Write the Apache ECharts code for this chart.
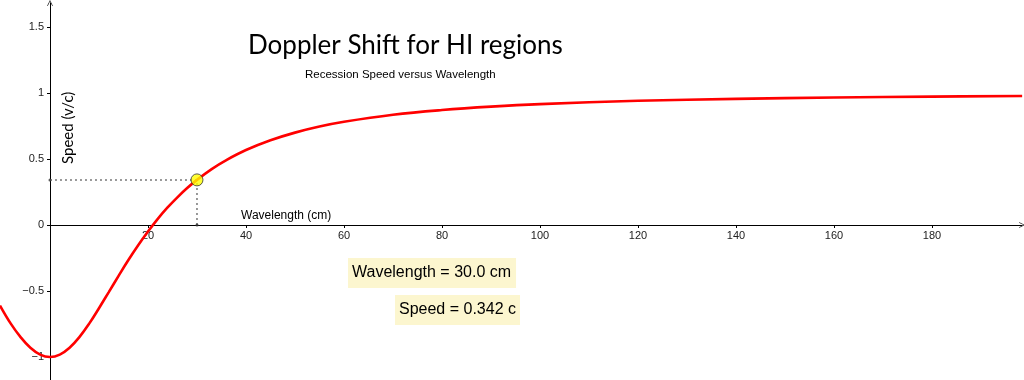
<!DOCTYPE html>
<html>
<head>
<meta charset="utf-8">
<script src="https://cdn.jsdelivr.net/npm/echarts@6/dist/echarts.min.js"></script>
<style>
html,body{margin:0;padding:0;background:#fff;}
#chart{width:1024px;height:380px;}
</style>
</head>
<body>
<div id="chart"></div>
<script>
// Curve samples (wavelength in cm, speed in v/c)
const wavelengths = [-10.2,-8,-6,-4,-2,0,2,4,6,8,10,12,14,16,18,20,22,24,26,28,30,33,36,40,45,50,55,60,70,80,90,100,120,140,160,180,198.4];
const speeds = [-0.61,-0.747,-0.849,-0.930,-0.982,-1,-0.982,-0.930,-0.849,-0.747,-0.630,-0.508,-0.385,-0.265,-0.153,-0.049,0.047,0.133,0.210,0.280,0.342,0.424,0.492,0.568,0.642,0.700,0.746,0.782,0.835,0.871,0.897,0.916,0.941,0.956,0.966,0.973,0.978];

// Selected point
const selectedWavelength = 30.0;
const selectedSpeed = 0.342;

// Tick labels
const xTicks = [20,40,60,80,100,120,140,160,180];
const yTicks = [-1,-0.5,0,0.5,1,1.5];

const titleText = 'Doppler Shift for HI regions';
const subtitleText = 'Recession Speed versus Wavelength';
const xAxisName = 'Wavelength (cm)';
const yAxisName = 'Speed (v/c)';

const curve = wavelengths.map((w, i) => [w, speeds[i]]);
const guide = [[0, selectedSpeed], [selectedWavelength, selectedSpeed], [selectedWavelength, 0]];

const chevron = 'path://M0,10 L5,0 L10,10 L9,10.6 L5,2.2 L1,10.6 Z';
const fmt = v => String(v).replace('-', '\u2212');
const X_MIN = -10.2, X_MAX = 198.37, Y_MIN = -1.174, Y_MAX = 1.682;

const chart = echarts.init(document.getElementById('chart'), null, {renderer: 'canvas'});
chart.setOption({
  animation: false,
  backgroundColor: '#ffffff',
  title: [
    {text: titleText, left: 243, top: 28,
     textStyle: {fontFamily: 'Lato', fontSize: 26, fontWeight: 'normal', color: '#000'}},
    {text: subtitleText, left: 305, top: 69, padding: 0,
     textStyle: {fontFamily: 'Liberation Sans', fontSize: 11.5, fontWeight: 'normal', color: '#000'}}
  ],
  grid: [
    {left: 0, right: 2, top: 3, bottom: 0, containLabel: false, outerBoundsMode: 'none'},
    {left: 50, right: 2, top: 3, bottom: 0, containLabel: false, outerBoundsMode: 'none'}
  ],
  xAxis: [
    {gridIndex: 0, type: 'value', min: X_MIN, max: X_MAX, show: true,
     axisLine: {show: false}, axisTick: {show: false}, axisLabel: {show: false}, splitLine: {show: false}},
    {gridIndex: 1, type: 'value', min: 0, max: X_MAX, position: 'bottom', offset: -155,
     axisLine: {onZero: false, symbol: ['none', chevron], symbolSize: [8, 6],
                lineStyle: {color: '#000', width: 1}},
     axisTick: {show: true, length: 3, customValues: xTicks, lineStyle: {color: '#000'}},
     axisLabel: {customValues: xTicks, formatter: fmt, margin: 5,
                 fontFamily: 'Liberation Sans', fontSize: 11, color: '#222'},
     splitLine: {show: false}}
  ],
  yAxis: [
    {gridIndex: 0, type: 'value', min: Y_MIN, max: Y_MAX, position: 'left', offset: -50,
     axisLine: {onZero: false, symbol: ['none', chevron], symbolSize: [8, 6],
                lineStyle: {color: '#000', width: 1}},
     axisTick: {show: true, length: 3, customValues: yTicks, lineStyle: {color: '#000'}},
     axisLabel: {customValues: yTicks, formatter: fmt, margin: 6,
                 fontFamily: 'Liberation Sans', fontSize: 11, color: '#222'},
     splitLine: {show: false}},
    {gridIndex: 1, type: 'value', min: Y_MIN, max: Y_MAX, show: false, splitLine: {show: false}}
  ],
  series: [
    {type: 'line', xAxisIndex: 0, yAxisIndex: 0, data: guide, symbol: 'none', silent: true, z: 2,
     lineStyle: {color: '#777', width: 1.5, type: [2, 3]}},
    {type: 'line', xAxisIndex: 0, yAxisIndex: 0, data: curve, symbol: 'none', smooth: 0.4, z: 3,
     lineStyle: {color: '#ff0000', width: 2.6}},
    {type: 'scatter', xAxisIndex: 0, yAxisIndex: 0, data: [[selectedWavelength, 0], [0, selectedSpeed]], symbolSize: 3, z: 4,
     itemStyle: {color: '#333'}},
    {type: 'scatter', xAxisIndex: 0, yAxisIndex: 0, data: [[selectedWavelength, selectedSpeed]], symbolSize: 12, z: 5,
     itemStyle: {color: '#ffff00', borderColor: '#333', borderWidth: 1}}
  ],
  graphic: [
    {type: 'text', left: 241, top: 210,
     style: {text: xAxisName, fontFamily: 'Liberation Sans', fontSize: 12, fill: '#000'}},
    {type: 'text', x: 61, y: 164, rotation: Math.PI / 2, originX: 0, originY: 0,
     style: {text: yAxisName, fontFamily: 'Lato', fontSize: 15, fill: '#000', align: 'left', verticalAlign: 'top'}},
    {type: 'text', left: 348, top: 258,
     style: {text: 'Wavelength = ' + selectedWavelength.toFixed(1) + ' cm', fontFamily: 'Liberation Sans', fontSize: 16,
             fill: '#000', backgroundColor: '#fcf6cf', padding: [7, 5, 7, 4]}},
    {type: 'text', left: 395, top: 295,
     style: {text: 'Speed = ' + selectedSpeed.toFixed(3) + ' c', fontFamily: 'Liberation Sans', fontSize: 16,
             fill: '#000', backgroundColor: '#fcf6cf', padding: [7, 4, 7, 4]}}
  ]
});
</script>
</body>
</html>
